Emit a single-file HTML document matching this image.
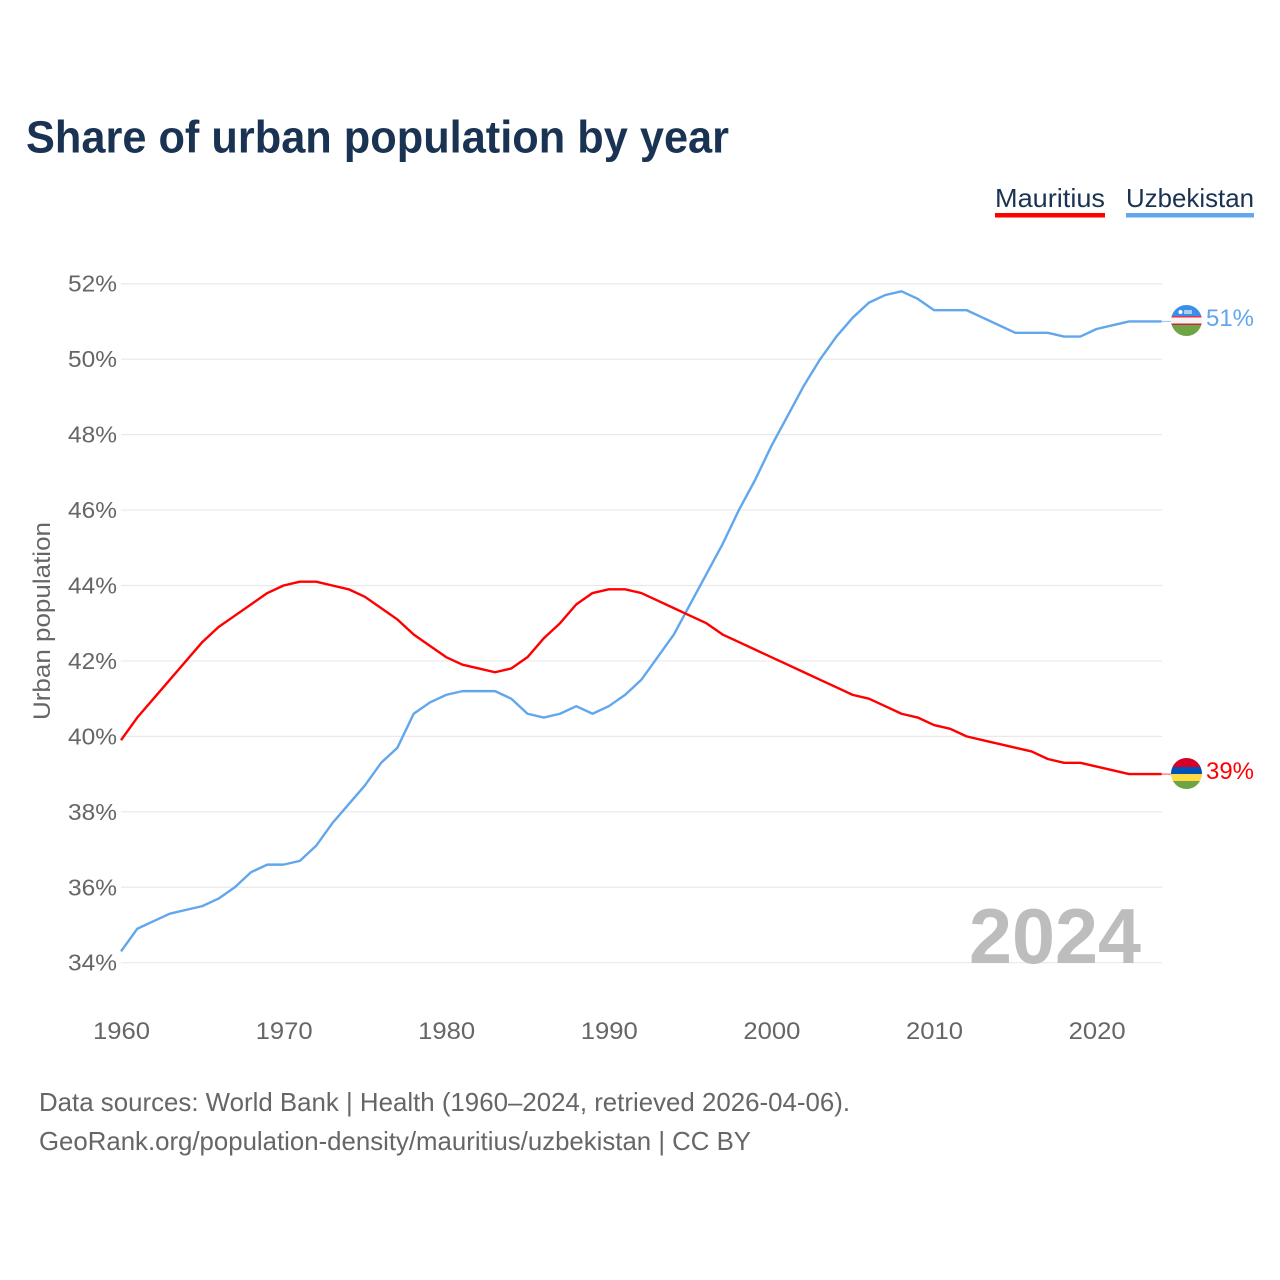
<!DOCTYPE html>
<html lang="en">
<head>
<meta charset="utf-8">
<title>Share of urban population by year</title>
<style>
html,body{margin:0;padding:0;background:#fff;width:1280px;height:1280px;overflow:hidden}
svg{display:block}
text{font-family:"Liberation Sans",sans-serif}
</style>
</head>
<body>
<svg id="chart" xmlns="http://www.w3.org/2000/svg" width="1280" height="1280" viewBox="0 0 1280 1280">
  <defs>
    <clipPath id="clip-uz"><circle id="clip-uz-c" cx="1186.5" cy="320.5" r="15.5"/></clipPath>
    <clipPath id="clip-mu"><circle id="clip-mu-c" cx="1186.5" cy="773.5" r="15.5"/></clipPath>
  </defs>
  <text x="26" y="152.5" font-size="45" font-weight="700" fill="#1a3353" textLength="703" lengthAdjust="spacingAndGlyphs">Share of urban population by year</text>
  <g>
    <g>
      <text x="995" y="207" font-size="26" fill="#1a3353" textLength="110" lengthAdjust="spacingAndGlyphs">Mauritius</text>
      <rect x="995" y="213" width="110" height="4.5" fill="#ff0000"/>
    </g>
    <g>
      <text x="1126" y="207" font-size="26" fill="#1a3353" textLength="128" lengthAdjust="spacingAndGlyphs">Uzbekistan</text>
      <rect x="1126" y="213" width="128" height="4.5" fill="#62a6ec"/>
    </g>
  </g>
  <g id="grid"></g>
  <g id="yticks"></g>
  <g id="xticks"></g>
  <text transform="translate(50,621) rotate(-90)" text-anchor="middle" font-size="24" fill="#666" textLength="198" lengthAdjust="spacingAndGlyphs">Urban population</text>
  <text x="969" y="963" font-size="78" font-weight="700" fill="#bdbdbd" textLength="172" lengthAdjust="spacingAndGlyphs">2024</text>
  <g id="series"></g>
  <g>
    <g clip-path="url(#clip-uz)">
      <rect x="1171" y="305" width="31" height="11" fill="#3b8fe8"/>
      <rect x="1171" y="316" width="31" height="1.5" fill="#e0354a"/>
      <rect x="1171" y="317.5" width="31" height="6" fill="#f4f4f4"/>
      <rect x="1171" y="323.5" width="31" height="1.5" fill="#d0263c"/>
      <rect x="1171" y="325" width="31" height="12" fill="#6da544"/>
      <circle cx="1180.5" cy="312" r="2" fill="#fff"/>
      <rect x="1184" y="310" width="8" height="4" fill="#a9cdf3"/>
    </g>
  </g>
  <g>
    <g clip-path="url(#clip-mu)">
      <rect x="1171" y="758" width="31" height="9" fill="#d80027"/>
      <rect x="1171" y="767" width="31" height="7" fill="#0052b4"/>
      <rect x="1171" y="774" width="31" height="7" fill="#ffda44"/>
      <rect x="1171" y="781" width="31" height="9" fill="#6da544"/>
    </g>
  </g>
  <text id="end-uz" x="1206" y="326" font-size="24" fill="#62a6ec" textLength="48" lengthAdjust="spacingAndGlyphs"></text>
  <text id="end-mu" x="1206" y="779" font-size="24" fill="#ff0000" textLength="48" lengthAdjust="spacingAndGlyphs"></text>
  <g>
    <text x="39" y="1111" font-size="26" fill="#666" textLength="811" lengthAdjust="spacingAndGlyphs">Data sources: World Bank | Health (1960–2024, retrieved 2026-04-06).</text>
    <text x="39" y="1150" font-size="26" fill="#666" textLength="712" lengthAdjust="spacingAndGlyphs">GeoRank.org/population-density/mauritius/uzbekistan | CC BY</text>
  </g>
</svg>
<script>
const startYear = 1960;
const yTicks = [34, 36, 38, 40, 42, 44, 46, 48, 50, 52];
const xTicks = [1960, 1970, 1980, 1990, 2000, 2010, 2020];
const mauritius = [39.9,40.5,41.0,41.5,42.0,42.5,42.9,43.2,43.5,43.8,44.0,44.1,44.1,44.0,43.9,43.7,43.4,43.1,42.7,42.4,42.1,41.9,41.8,41.7,41.8,42.1,42.6,43.0,43.5,43.8,43.9,43.9,43.8,43.6,43.4,43.2,43.0,42.7,42.5,42.3,42.1,41.9,41.7,41.5,41.3,41.1,41.0,40.8,40.6,40.5,40.3,40.2,40.0,39.9,39.8,39.7,39.6,39.4,39.3,39.3,39.2,39.1,39.0,39.0,39.0];
const uzbekistan = [34.3,34.9,35.1,35.3,35.4,35.5,35.7,36.0,36.4,36.6,36.6,36.7,37.1,37.7,38.2,38.7,39.3,39.7,40.6,40.9,41.1,41.2,41.2,41.2,41.0,40.6,40.5,40.6,40.8,40.6,40.8,41.1,41.5,42.1,42.7,43.5,44.3,45.1,46.0,46.8,47.7,48.5,49.3,50.0,50.6,51.1,51.5,51.7,51.8,51.6,51.3,51.3,51.3,51.1,50.9,50.7,50.7,50.7,50.6,50.6,50.8,50.9,51.0,51.0,51.0];

const NS = 'http://www.w3.org/2000/svg';
function xScale(year) { return 121 + (year - 1960) * 16.26; }
function yScale(v) { return 962.7 - (v - 34) * 37.72; }
function make(tag, attrs, parent, text) {
  const el = document.createElementNS(NS, tag);
  for (const k in attrs) el.setAttribute(k, attrs[k]);
  if (text !== undefined) el.textContent = text;
  parent.appendChild(el);
  return el;
}
const gridG = document.getElementById('grid');
const yG = document.getElementById('yticks');
const xG = document.getElementById('xticks');
const seriesG = document.getElementById('series');

yTicks.forEach(function (t) {
  const line = make('line', {x1: 121, x2: 1162, y1: yScale(t), y2: yScale(t), stroke: '#e9e9e9', 'stroke-width': 1.2}, gridG);
  
  
  const label = make('text', {x: 117, y: yScale(t) + 8, 'text-anchor': 'end', 'font-size': 23.5, fill: '#666', textLength: 49, lengthAdjust: 'spacingAndGlyphs'}, yG, t + '%');
  
  
});
xTicks.forEach(function (t) {
  const label = make('text', {x: xScale(t) + 0.5, y: 1039, 'text-anchor': 'middle', 'font-size': 24, fill: '#666', textLength: 57, lengthAdjust: 'spacingAndGlyphs'}, xG, String(t));
  
  
});
function drawSeries(values, color) {
  const d = values.map(function (v, i) {
    return (i ? 'L' : 'M') + xScale(startYear + i).toFixed(2) + ' ' + yScale(v).toFixed(2);
  }).join(' ');
  const lastYear = startYear + values.length - 1;
  const lastY = yScale(values[values.length - 1]);
  const conn = make('line', {x1: xScale(lastYear), x2: 1171, y1: lastY, y2: lastY, stroke: color, 'stroke-width': 1.2, 'stroke-opacity': 0.6}, seriesG);
  
  
  const path = make('path', {d: d, fill: 'none', stroke: color, 'stroke-width': 2.4, 'stroke-linejoin': 'round'}, seriesG);
  
  
}
drawSeries(uzbekistan, '#62a6ec');
drawSeries(mauritius, '#ff0000');
document.getElementById('end-uz').textContent = Math.round(uzbekistan[uzbekistan.length - 1]) + '%';
document.getElementById('end-mu').textContent = Math.round(mauritius[mauritius.length - 1]) + '%';
</script>
</body>
</html>
